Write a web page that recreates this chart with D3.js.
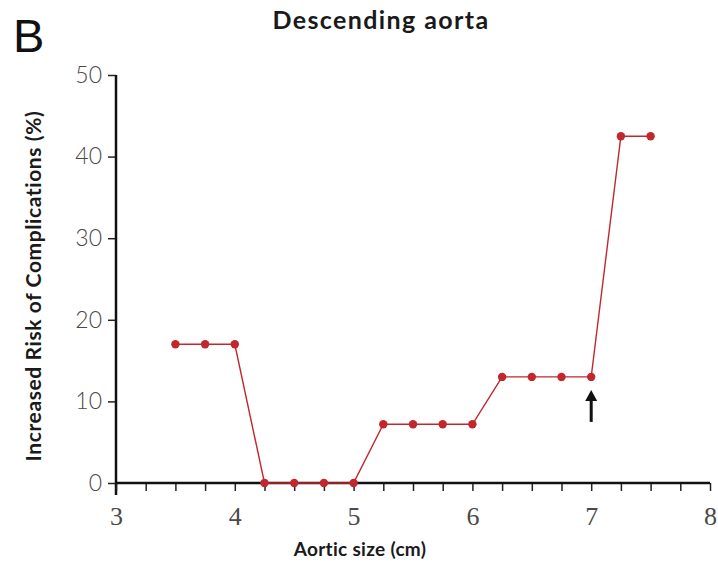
<!DOCTYPE html>
<html>
<head>
<meta charset="utf-8">
<script src="https://cdn.jsdelivr.net/npm/d3@7"></script>
<style>
  html, body { margin: 0; padding: 0; background: #fff; }
  svg { display: block; }
</style>
</head>
<body>
<svg id="chart" width="718" height="583"></svg>
<script>
// ---- data ----
const aorticSize = [3.5, 3.75, 4, 4.25, 4.5, 4.75, 5, 5.25, 5.5, 5.75, 6, 6.25, 6.5, 6.75, 7, 7.25, 7.5];
const riskPct    = [17, 17, 17, 0, 0, 0, 0, 7.2, 7.2, 7.2, 7.2, 13, 13, 13, 13, 42.5, 42.5];
const xTickLabels = [3, 4, 5, 6, 7, 8];
const yTickLabels = [0, 10, 20, 30, 40, 50];
const arrowAt = 7;          // x position of the arrow annotation
const arrowValue = 13;      // value of the point the arrow marks
const titleText = "Descending aorta";
const panelLabel = "B";
const xTitle = "Aortic size (cm)";
const yTitle = "Increased Risk of Complications (%)";

const svg = d3.select("#chart");
const x = d3.scaleLinear().domain([3, 8]).range([116, 710]);
const y = d3.scaleLinear().domain([0, 50]).range([483, 75]);
const red = "#c1272d";

// panel label + title
svg.append("text").attr("x", 13).attr("y", 52)
  .attr("font-family", "Liberation Sans, Arial, sans-serif")
  .attr("font-size", 47).attr("fill", "#111").text(panelLabel);
svg.append("text").attr("x", 381).attr("y", 29).attr("text-anchor", "middle")
  .attr("font-family", "Lato, sans-serif").attr("font-weight", "bold")
  .attr("font-size", 25).attr("letter-spacing", 1.4).attr("fill", "#1a1a1a").text(titleText);

// y axis
const yAxis = d3.axisLeft(y).tickValues(yTickLabels).tickSize(8).tickPadding(6).tickFormat(d3.format("d"));
const gy = svg.append("g").attr("transform", `translate(${x(3)},0)`).call(yAxis);
gy.select(".domain").remove();
gy.selectAll(".tick line").attr("stroke", "#222").attr("stroke-width", 1.5);
gy.selectAll(".tick text").attr("font-family", "Lato, sans-serif").attr("font-size", 23)
  .attr("fill", "#4a4a4a").attr("font-weight", 300);
svg.append("line").attr("x1", x(3)).attr("x2", x(3)).attr("y1", y(50)).attr("y2", y(0) + 12)
  .attr("stroke", "#111").attr("stroke-width", 2.5);

// x axis: minor ticks every 0.25
const xTicks = d3.range(3, 8.001, 0.25);
const xAxis = d3.axisBottom(x).tickValues(xTicks).tickSize(8).tickPadding(16)
  .tickFormat(d => xTickLabels.includes(d) ? d : "");
const gx = svg.append("g").attr("transform", `translate(0,${y(0)})`).call(xAxis);
gx.select(".domain").remove();
gx.selectAll(".tick line").attr("stroke", "#222").attr("stroke-width", 1.5);
gx.selectAll(".tick text").attr("font-family", "Liberation Serif, serif").attr("font-size", 26)
  .attr("fill", "#4a4a4a");
svg.append("line").attr("x1", x(3)).attr("x2", x(8)).attr("y1", y(0)).attr("y2", y(0))
  .attr("stroke", "#111").attr("stroke-width", 2.5);

// axis titles
svg.append("text").attr("x", 360).attr("y", 556).attr("text-anchor", "middle")
  .attr("font-family", "Lato, sans-serif").attr("font-weight", "bold")
  .attr("font-size", 19).attr("letter-spacing", 0.3).attr("fill", "#1a1a1a").text(xTitle);
svg.append("text").attr("transform", `translate(41,286) rotate(-90)`).attr("text-anchor", "middle")
  .attr("font-family", "Lato, sans-serif").attr("font-weight", "bold")
  .attr("font-size", 21).attr("letter-spacing", 0.6).attr("fill", "#1a1a1a").text(yTitle);

// line + points
const pts = aorticSize.map((s, i) => [s, riskPct[i]]);
svg.append("path").datum(pts)
  .attr("d", d3.line().x(d => x(d[0])).y(d => y(d[1])))
  .attr("fill", "none").attr("stroke", red).attr("stroke-width", 1.4);
svg.append("g").selectAll("circle").data(pts).join("circle")
  .attr("cx", d => x(d[0])).attr("cy", d => y(d[1])).attr("r", 4.2).attr("fill", red);

// arrow annotation
const ax = x(arrowAt), tipY = y(arrowValue) + 13;
svg.append("line").attr("x1", ax).attr("x2", ax).attr("y1", tipY + 6).attr("y2", tipY + 32)
  .attr("stroke", "#111").attr("stroke-width", 3);
svg.append("path")
  .attr("d", `M${ax},${tipY} L${ax - 6},${tipY + 11} L${ax + 6},${tipY + 11} Z`)
  .attr("fill", "#111");
</script>
</body>
</html>
